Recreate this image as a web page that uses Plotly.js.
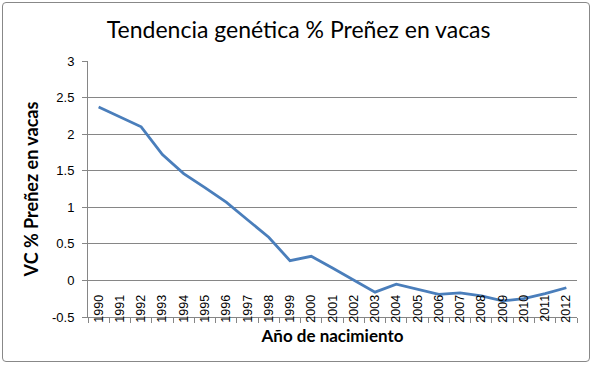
<!DOCTYPE html>
<html>
<head>
<meta charset="utf-8">
<script src="https://cdn.plot.ly/plotly-3.0.1.min.js"></script>
<style>
  html, body { margin: 0; padding: 0; background: #fff; }
  #wrap { position: relative; width: 595px; height: 366px; }
  #chart { position: absolute; left: 0; top: 0; width: 595px; height: 366px; }
  #frame { position: absolute; left: 2px; top: 2px; width: 588px; height: 360px;
           border: 1px solid #888; border-radius: 4px; box-sizing: border-box; pointer-events: none; }
</style>
</head>
<body>
<div id="wrap">
  <div id="chart"></div>
  <div id="frame"></div>
</div>
<script>
const years = ["1990","1991","1992","1993","1994","1995","1996","1997","1998","1999","2000","2001",
               "2002","2003","2004","2005","2006","2007","2008","2009","2010","2011","2012"];
const vcPrenez = [2.37, 2.23, 2.1, 1.72, 1.46, 1.27, 1.07, 0.83, 0.59, 0.27, 0.33, 0.17,
                  0.0, -0.16, -0.05, -0.12, -0.19, -0.17, -0.21, -0.28, -0.25, -0.18, -0.1];
const yTicks = [-0.5, 0, 0.5, 1, 1.5, 2, 2.5, 3];
const yTickText = ["-0.5", "0", "0.5", "1", "1.5", "2", "2.5", "3"];

const trace = {
  x: years, y: vcPrenez, type: "scatter", mode: "lines",
  line: { color: "#4a7ebb", width: 2.8 },
  hoverinfo: "skip"
};
// invisible copy on the label axis, so that axis knows its categories
const labelTrace = {
  x: years, y: vcPrenez, xaxis: "x2", type: "scatter", mode: "markers",
  marker: { opacity: 0, size: 1 }, hoverinfo: "skip"
};

const layout = {
  width: 595, height: 366,
  margin: { l: 88, r: 18, t: 61, b: 49 },
  paper_bgcolor: "#ffffff", plot_bgcolor: "#ffffff",
  showlegend: false,
  title: { text: "Tendencia genética % Preñez en vacas", x: 0.502, xanchor: "center", y: 0.918, yanchor: "middle",
           font: { family: "Lato, 'Open Sans', sans-serif", size: 23, color: "#000" } },
  xaxis: {
    type: "category", range: [-0.5, 22.5], tickson: "boundaries", ticks: "outside", ticklen: 5, tickcolor: "#868686",
    showline: true, linecolor: "#868686", linewidth: 1, showgrid: false, zeroline: false,
    showticklabels: false,
    title: { text: "Año de nacimiento", standoff: 13,
             font: { family: "Lato, 'Open Sans', sans-serif", size: 17, weight: "bold", color: "#000" } }
  },
  xaxis2: {
    type: "category", range: [-0.5, 22.5], overlaying: "x", anchor: "free", position: 0.1, side: "bottom",
    ticks: "", showline: false, showgrid: false, zeroline: false,
    tickangle: -90,
    tickfont: { family: "'Liberation Sans', Arial, sans-serif", size: 12.5, color: "#000" }
  },
  yaxis: {
    range: [-0.5, 3], tickvals: yTicks, ticktext: yTickText,
    ticks: "outside", ticklen: 5, tickcolor: "#868686", ticklabelstandoff: 5,
    showline: true, linecolor: "#868686", linewidth: 1,
    showgrid: true, gridcolor: "#868686", gridwidth: 1, zeroline: false,
    tickfont: { family: "'Liberation Sans', Arial, sans-serif", size: 13, color: "#000" },
    title: { text: "VC % Preñez en vacas", standoff: 8,
             font: { family: "Lato, 'Open Sans', sans-serif", size: 18, weight: "bold", color: "#000" } }
  }
};

Plotly.newPlot("chart", [trace, labelTrace], layout, { staticPlot: true, displayModeBar: false });
</script>
</body>
</html>
